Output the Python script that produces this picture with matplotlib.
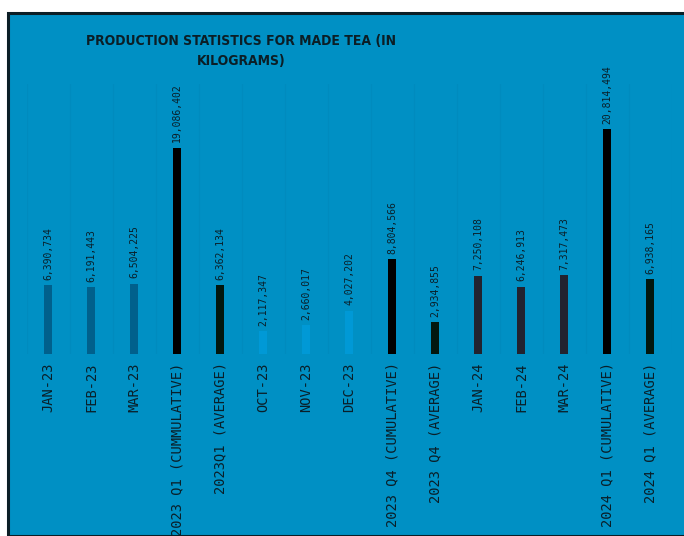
import matplotlib
matplotlib.use('Agg')
import matplotlib.pyplot as plt
from matplotlib.patches import Rectangle

categories = ["JAN-23", "FEB-23", "MAR-23", "2023 Q1 (CUMMULATIVE)", "2023Q1 (AVERAGE)",
              "OCT-23", "NOV-23", "DEC-23", "2023 Q4 (CUMULATIVE)", "2023 Q4 (AVERAGE)",
              "JAN-24", "FEB-24", "MAR-24", "2024 Q1 (CUMULATIVE)", "2024 Q1 (AVERAGE)"]
values = [6390734, 6191443, 6504225, 19086402, 6362134,
          2117347, 2660017, 4027202, 8804566, 2934855,
          7250108, 6246913, 7317473, 20814494, 6938165]
value_labels = ["6,390,734", "6,191,443", "6,504,225", "19,086,402", "6,362,134",
                "2,117,347", "2,660,017", "4,027,202", "8,804,566", "2,934,855",
                "7,250,108", "6,246,913", "7,317,473", "20,814,494", "6,938,165"]
colors = ["#00608C", "#00608C", "#00608C", "#000000", "#02170F",
          "#0099D6", "#0099D6", "#0099D6", "#000000", "#02170F",
          "#22232F", "#22232F", "#22232F", "#000000", "#02170F"]

bg = "#0090C4"
txt = "#0A1F29"

fig = plt.figure(figsize=(6.84, 5.36), dpi=100)
fig.patch.set_facecolor("white")
fig.patches.append(Rectangle((8 / 684, 0), 1, (536 - 12.5) / 536, transform=fig.transFigure,
                             facecolor=bg, edgecolor="#0B1E26", linewidth=2.2, zorder=-10))

ax = fig.add_axes([26.5 / 684, 182 / 536, 645 / 684, 270 / 536])
ax.set_facecolor("none")
x = list(range(len(categories)))
ax.bar(x, values, width=0.19, color=colors, zorder=3)
for i, v in enumerate(values):
    ax.text(i, v + 500000, value_labels[i], rotation=90, ha="center", va="bottom",
            fontsize=7, family="DejaVu Sans Mono", color=txt)

ax.set_xlim(-0.5, len(categories) - 0.5)
ax.set_ylim(0, 25000000)
ax.set_xticks(x)
ax.set_xticklabels(categories, rotation=90, fontsize=9.9, family="DejaVu Sans Mono", color=txt)
ax.tick_params(axis="x", length=0, pad=6)
ax.set_yticks([])
for i in range(len(categories) + 1):
    ax.axvline(i - 0.5, color="#008BBE", linewidth=0.8, zorder=1)
for s in ax.spines.values():
    s.set_visible(False)

fig.text(241 / 684, 1 - 41 / 536, "PRODUCTION STATISTICS FOR MADE TEA (IN", ha="center", va="center",
         fontsize=10, fontweight="bold", family="DejaVu Sans", fontstretch="condensed", color="#0B1E26")
fig.text(241 / 684, 1 - 61 / 536, "KILOGRAMS)", ha="center", va="center",
         fontsize=10, fontweight="bold", family="DejaVu Sans", fontstretch="condensed", color="#0B1E26")

fig.savefig("out.png", dpi=100)
